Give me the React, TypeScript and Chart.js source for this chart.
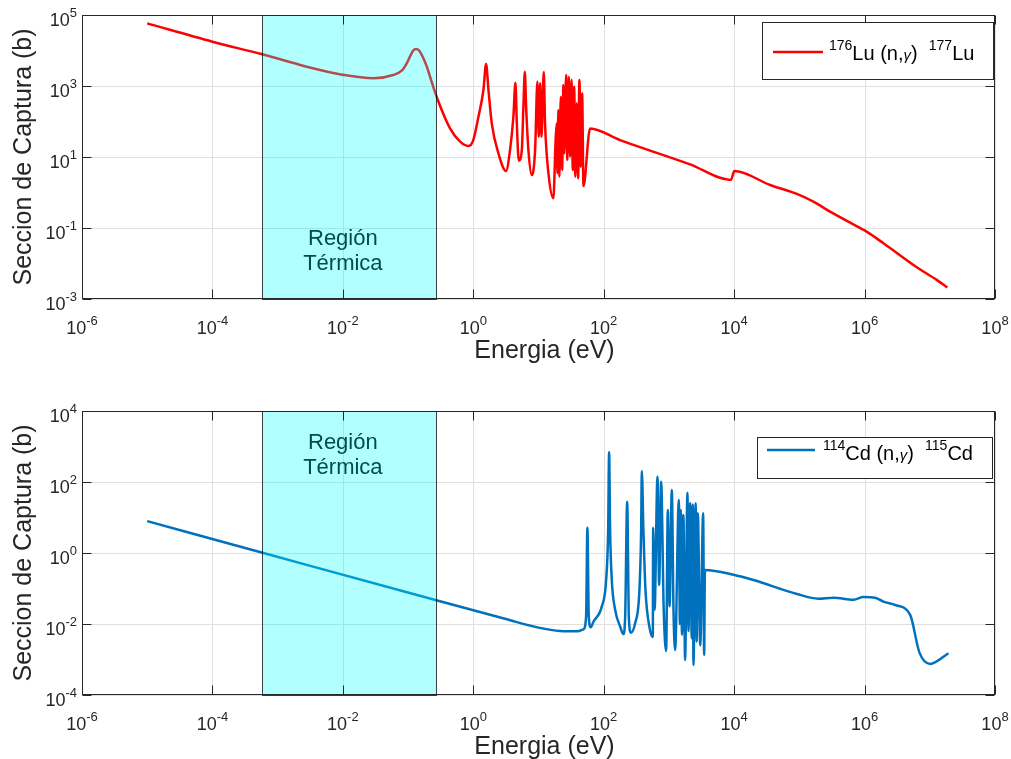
import React, { useEffect, useRef } from 'react';
import { Chart, registerables } from 'chart.js';

Chart.register(...registerables);

const FONT = '"Liberation Sans", Arial, Helvetica, sans-serif';

// ---- 176Lu (n,γ) 177Lu capture cross-section ----
const luEnergy = [
  1e-5, 1e-4, 5.82e-4, 2.79e-3, 9.8e-3, 0.0294, 0.0594, 0.08, 0.0955, 0.108, 0.12, 0.133, 0.146, 0.162, 0.194, 0.217,
  0.286, 0.44, 0.628, 0.84, 1.0, 1.2, 1.43, 1.57, 1.71, 1.92, 2.43, 3.18,
  3.66, 4.12, 4.43, 4.65, 4.99,
  5.55, 5.87, 6.17, 6.46, 7.0, 7.89,
  8.87, 9.62, 10.1, 10.6, 11.1, 12.05, 12.6, 14.2, 16.9,
  18.4, 19.1, 19.5, 20.2, 20.9, 22.0, 23.0, 24.1, 24.9, 26.5, 27.7, 29.2, 30.5, 32.0, 33.6, 35.2, 36.8,
  38.6, 40.5, 42.4, 44.6, 46.7, 48.9,
  61.8, 178, 2110, 8900, 10100, 35600, 91600, 164000, 296000, 601000, 1020000, 1950000, 6310000,
  12900000, 18600000,
];
const luSigma = [
  58000, 17700, 7800, 3500, 2080, 1650, 2040, 2700, 4360, 7000, 10000, 11000, 10200, 7500, 3500, 1830,
  404, 64, 27, 20.4, 30, 136, 770, 4170, 770, 89, 12.7, 4.04,
  15.7, 136, 1240, 89, 7.9,
  15.7, 261, 2510, 261, 15.7, 3.1,
  15.7, 1320, 37, 1190, 37, 2480, 89, 3.5, 0.69,
  37, 89, 3.5, 211, 2.8, 500, 4.3, 1070, 12.7, 2040, 8.2, 1830, 10.2, 1480, 4.3, 955, 2.8,
  326, 2.5, 1480, 5.3, 622, 1.52,
  64, 30, 6.2, 2.25, 4.04, 1.63, 0.91, 0.55, 0.288, 0.141, 0.084, 0.037, 0.0078,
  0.0034, 0.0021,
];

// ---- 114Cd (n,γ) 115Cd capture cross-section ----
const cdEnergy = [
  1e-5, 5.5e-4, 0.262, 3.16, 10, 21.4, 39.8, 48.9, 53.7, 56.2, 59.0, 63.4, 69.5, 93.3,
  109, 117, 121, 125.3, 133, 150, 179, 200, 213, 229, 243, 261,
  303, 353, 375, 384, 406, 437, 504, 566, 573, 603, 667, 708, 759, 832, 906, 962,
  1023, 1107, 1175, 1245, 1419, 1472, 1521, 1585, 1667, 1770, 1923, 1995, 2113, 2239, 2323,
  2377, 2570, 2661, 2773, 3020, 3350, 3467, 3565,
  9750, 19800, 91600, 196000, 333000, 676000, 962000, 1456000, 1950000, 2944000, 5000000,
  6950000, 10140000, 19360000,
];
const cdSigma = [
  7.9, 1.05, 0.0474, 0.0138, 0.0079, 0.00635, 0.0062, 0.0071, 0.0162, 5.16, 0.0162, 0.0081, 0.0116, 0.0309,
  0.174, 4.45, 687, 4.45, 0.174, 0.0248, 0.0084, 0.0052, 0.0151, 27.9, 0.0151, 0.0057,
  0.0105, 0.0912, 4.45, 204, 4.45, 0.0912, 0.0079, 0.0043, 5.16, 0.025, 141, 0.126, 102, 0.025, 0.00173, 16.3,
  0.0316, 59.6, 0.025, 0.00185, 31.1, 0.01, 16.3, 0.005, 11.7, 0.00097, 50, 0.0063, 25.6, 0.004, 23.4,
  0.0007, 25.1, 0.0032, 13.1, 0.0025, 13.1, 0.00134, 0.332,
  0.245, 0.173, 0.07, 0.0516, 0.055, 0.0484, 0.0577, 0.055, 0.0425, 0.0343, 0.018,
  0.00156, 0.00075, 0.0015,
];

// ---- axes / annotation values ----
const xTickExponents = [-6, -4, -2, 0, 2, 4, 6, 8];
const luYTickExponents = [-3, -1, 1, 3, 5];
const cdYTickExponents = [-4, -2, 0, 2, 4];
const thermalRegion = [5.7e-4, 0.27];
const thermalLabelEnergy = 1e-2;
const thermalLabel = ['Región', 'Térmica'];
const xTitle = 'Energia (eV)';
const yTitle = 'Seccion de Captura (b)';

type Run = { t: string; kind?: 'sup' | 'greek' };
const luLegend: Run[] = [
  { t: '176', kind: 'sup' }, { t: 'Lu' }, { t: ' (n,' }, { t: 'γ', kind: 'greek' }, { t: ')' }, { t: '  ' },
  { t: '177', kind: 'sup' }, { t: 'Lu' },
];
const cdLegend: Run[] = [
  { t: '114', kind: 'sup' }, { t: 'Cd' }, { t: ' (n,' }, { t: 'γ', kind: 'greek' }, { t: ')' }, { t: '  ' },
  { t: '115', kind: 'sup' }, { t: 'Cd' },
];

type Cfg = {
  yTicks: number[];
  yMin: number;
  yMax: number;
  color: string;
  labelBaselines: number[];
  xTickBaseline: number;
  xTitleBaseline: number;
  legendBox: [number, number, number, number];
  legendLineY: number;
  legendLineX: [number, number];
  legendTextX: number;
  legendBaseline: number;
  legendRuns: Run[];
};

const AXIS = '#262626';

function drawPow(ctx: CanvasRenderingContext2D, exp: string, x: number, baseline: number, align: 'center' | 'right') {
  ctx.font = `18px ${FONT}`;
  const wb = ctx.measureText('10').width;
  ctx.font = `13px ${FONT}`;
  const we = ctx.measureText(exp).width;
  const total = wb + we;
  const left = align === 'center' ? x - total / 2 : x - total;
  ctx.textAlign = 'left';
  ctx.textBaseline = 'alphabetic';
  ctx.fillStyle = AXIS;
  ctx.font = `18px ${FONT}`;
  ctx.fillText('10', left, baseline);
  ctx.font = `13px ${FONT}`;
  ctx.fillText(exp, left + wb, baseline - 9);
}

function makePlugin(cfg: Cfg) {
  return {
    id: 'matlabLook',
    beforeDatasetsDraw(chart: any) {
      const { ctx, chartArea: a, scales } = chart;
      const x = scales.x, y = scales.y;
      ctx.save();
      ctx.strokeStyle = '#dfdfdf';
      ctx.lineWidth = 1;
      ctx.beginPath();
      xTickExponents.forEach((e) => {
        const px = Math.round(x.getPixelForValue(Math.pow(10, e))) + 0.5;
        ctx.moveTo(px, a.top);
        ctx.lineTo(px, a.bottom);
      });
      cfg.yTicks.forEach((e) => {
        const py = Math.round(y.getPixelForValue(Math.pow(10, e))) + 0.5;
        ctx.moveTo(a.left, py);
        ctx.lineTo(a.right, py);
      });
      ctx.stroke();
      ctx.restore();
    },
    afterDatasetsDraw(chart: any) {
      const { ctx, chartArea: a, scales } = chart;
      const x = scales.x;
      ctx.save();
      const x0 = Math.round(x.getPixelForValue(thermalRegion[0])) + 0.5;
      const x1 = Math.round(x.getPixelForValue(thermalRegion[1])) + 0.5;
      ctx.fillStyle = 'rgba(0,255,255,0.3)';
      ctx.fillRect(x0, a.top, x1 - x0, a.bottom - a.top);
      ctx.strokeStyle = 'rgba(0,0,0,0.75)';
      ctx.lineWidth = 1;
      ctx.strokeRect(x0, Math.round(a.top) + 0.5, x1 - x0, Math.round(a.bottom - a.top));
      ctx.fillStyle = '#004c4c';
      ctx.font = `22px ${FONT}`;
      ctx.textAlign = 'center';
      ctx.textBaseline = 'alphabetic';
      const cx = x.getPixelForValue(thermalLabelEnergy);
      thermalLabel.forEach((s, i) => ctx.fillText(s, cx, cfg.labelBaselines[i]));
      ctx.restore();
    },
    afterDraw(chart: any) {
      const { ctx, chartArea: a, scales } = chart;
      const x = scales.x, y = scales.y;
      ctx.save();
      // axes box
      const L = Math.round(a.left) + 0.5, R = Math.round(a.right) - 0.5;
      const T = Math.round(a.top) + 0.5, B = Math.round(a.bottom) - 0.5;
      ctx.strokeStyle = AXIS;
      ctx.lineWidth = 1;
      ctx.strokeRect(L, T, R - L, B - T);
      // ticks (inward, all sides)
      const tl = 9;
      ctx.beginPath();
      xTickExponents.forEach((e) => {
        const px = Math.round(x.getPixelForValue(Math.pow(10, e))) + 0.5;
        ctx.moveTo(px, B); ctx.lineTo(px, B - tl);
        ctx.moveTo(px, T); ctx.lineTo(px, T + tl);
      });
      cfg.yTicks.forEach((e) => {
        const py = Math.round(y.getPixelForValue(Math.pow(10, e))) + 0.5;
        ctx.moveTo(L, py); ctx.lineTo(L + tl, py);
        ctx.moveTo(R, py); ctx.lineTo(R - tl, py);
      });
      ctx.stroke();
      // tick labels
      xTickExponents.forEach((e) => {
        const px = x.getPixelForValue(Math.pow(10, e));
        drawPow(ctx, String(e), px, cfg.xTickBaseline, 'center');
      });
      cfg.yTicks.forEach((e) => {
        const py = y.getPixelForValue(Math.pow(10, e));
        drawPow(ctx, String(e), a.left - 5, py + 10.5, 'right');
      });
      // titles
      ctx.fillStyle = AXIS;
      ctx.font = `25px ${FONT}`;
      ctx.textAlign = 'center';
      ctx.textBaseline = 'alphabetic';
      ctx.fillText(xTitle, (a.left + a.right) / 2 + 6, cfg.xTitleBaseline);
      ctx.save();
      ctx.translate(31, (a.top + a.bottom) / 2);
      ctx.rotate(-Math.PI / 2);
      ctx.fillText(yTitle, 0, 0);
      ctx.restore();
      // legend
      const [bx0, by0, bx1, by1] = cfg.legendBox;
      ctx.fillStyle = '#ffffff';
      ctx.fillRect(bx0, by0, bx1 - bx0, by1 - by0);
      ctx.strokeStyle = AXIS;
      ctx.strokeRect(bx0, by0, bx1 - bx0, by1 - by0);
      ctx.strokeStyle = cfg.color;
      ctx.lineWidth = 2.5;
      ctx.beginPath();
      ctx.moveTo(cfg.legendLineX[0], cfg.legendLineY);
      ctx.lineTo(cfg.legendLineX[1], cfg.legendLineY);
      ctx.stroke();
      ctx.fillStyle = '#000000';
      ctx.textAlign = 'left';
      let tx = cfg.legendTextX;
      cfg.legendRuns.forEach((r) => {
        let dy = 0;
        if (r.kind === 'sup') { ctx.font = `14px ${FONT}`; dy = -10; }
        else if (r.kind === 'greek') { ctx.font = `italic 15px ${FONT}`; dy = 0; }
        else ctx.font = `20px ${FONT}`;
        ctx.fillText(r.t, tx, cfg.legendBaseline + dy);
        tx += ctx.measureText(r.t).width;
      });
      ctx.restore();
    },
  };
}

function CrossSection(props: {
  energy: number[]; sigma: number[]; cfg: Cfg; height: number; padTop: number; padBottom: number;
}) {
  const ref = useRef<HTMLCanvasElement | null>(null);
  useEffect(() => {
    if (!ref.current) return;
    const { energy, sigma, cfg } = props;
    const chart = new Chart(ref.current, {
      type: 'line',
      data: {
        datasets: [
          {
            data: energy.map((e, i) => ({ x: e, y: sigma[i] })),
            borderColor: cfg.color,
            borderWidth: 2.5,
            pointRadius: 0,
            fill: false,
            cubicInterpolationMode: 'monotone',
          },
        ],
      },
      options: {
        animation: false,
        responsive: false,
        devicePixelRatio: 1,
        events: [],
        layout: { padding: { left: 82, right: 16, top: props.padTop, bottom: props.padBottom } },
        scales: {
          x: { type: 'logarithmic', min: 1e-6, max: 1e8, display: false },
          y: { type: 'logarithmic', min: cfg.yMin, max: cfg.yMax, display: false },
        },
        plugins: { legend: { display: false }, tooltip: { enabled: false } },
      },
      plugins: [makePlugin(cfg)],
    } as any);
    return () => chart.destroy();
  }, []);
  return <canvas ref={ref} width={1011} height={props.height} style={{ display: 'block' }} />;
}

const luCfg: Cfg = {
  yTicks: luYTickExponents,
  yMin: 1e-3,
  yMax: 1e5,
  color: '#ff0000',
  labelBaselines: [245, 270],
  xTickBaseline: 334,
  xTitleBaseline: 358,
  legendBox: [762.5, 22.5, 993.5, 79.5],
  legendLineY: 52,
  legendLineX: [773, 823],
  legendTextX: 829,
  legendBaseline: 60,
  legendRuns: luLegend,
};

const cdCfg: Cfg = {
  yTicks: cdYTickExponents,
  yMin: 1e-4,
  yMax: 1e4,
  color: '#0072bd',
  labelBaselines: [449 - 380, 474 - 380],
  xTickBaseline: 730 - 380,
  xTitleBaseline: 754 - 380,
  legendBox: [757.5, 437.5 - 380, 992.5, 478.5 - 380],
  legendLineY: 450 - 380,
  legendLineX: [767, 815],
  legendTextX: 823,
  legendBaseline: 460 - 380,
  legendRuns: cdLegend,
};

export default function App() {
  return (
    <div style={{ position: 'absolute', left: 0, top: 0, width: 1011, height: 759, background: '#ffffff' }}>
      <CrossSection energy={luEnergy} sigma={luSigma} cfg={luCfg} height={380} padTop={15} padBottom={81} />
      <CrossSection energy={cdEnergy} sigma={cdSigma} cfg={cdCfg} height={379} padTop={31} padBottom={64} />
    </div>
  );
}
